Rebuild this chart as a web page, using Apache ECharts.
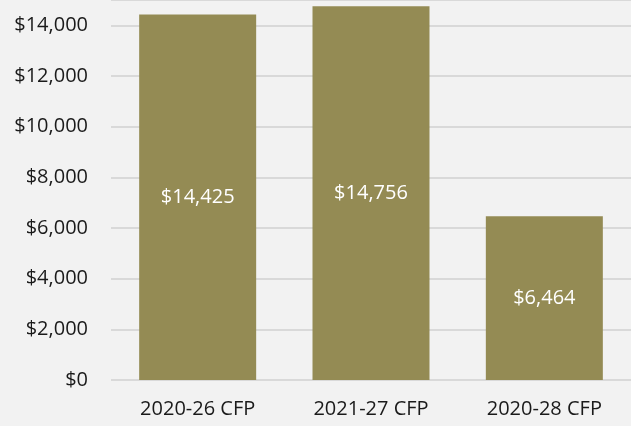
<!DOCTYPE html>
<html>
<head>
<meta charset="utf-8">
<script src="https://cdn.jsdelivr.net/npm/echarts@6/dist/echarts.min.js"></script>
<style>
  html, body { margin: 0; padding: 0; background: #f2f2f2; }
  #chart { width: 631px; height: 426px; }
</style>
</head>
<body>
<div id="chart"></div>
<script>
// chart data
const categories = ['2020-26 CFP', '2021-27 CFP', '2020-28 CFP'];
const amounts = [14425, 14756, 6464];

const fmt = v => '$' + v.toLocaleString('en-US');

const myChart = echarts.init(document.getElementById('chart'));
myChart.setOption({
  backgroundColor: '#f2f2f2',
  animation: false,
  textStyle: { fontFamily: 'Open Sans' },
  grid: { left: 111, right: -5, top: -4, bottom: 46 },
  xAxis: {
    type: 'category',
    data: categories,
    axisLine: { show: false },
    axisTick: { show: false },
    axisLabel: { color: '#1a1a1a', fontSize: 20, margin: 19 }
  },
  yAxis: {
    type: 'value',
    min: 0,
    max: 15000,
    interval: 2000,
    axisLabel: {
      color: '#1a1a1a',
      fontSize: 20,
      margin: 23,
      showMaxLabel: false,
      formatter: v => fmt(v)
    },
    splitLine: { lineStyle: { color: '#d9d9d9', width: 2 } }
  },
  series: [{
    type: 'bar',
    data: amounts,
    barWidth: 117,
    itemStyle: { color: '#948b54' },
    label: {
      show: true,
      position: 'inside',
      color: '#ffffff',
      fontSize: 20,
      formatter: p => fmt(p.value)
    }
  }]
});
</script>
</body>
</html>
